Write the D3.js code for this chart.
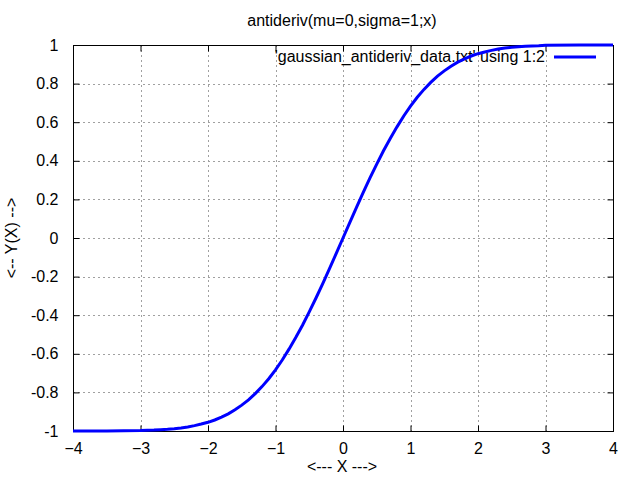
<!DOCTYPE html>
<html><head><meta charset="utf-8">
<script src="https://cdn.jsdelivr.net/npm/d3@7"></script>
<style>body{margin:0;background:#fff}svg{display:block}text{font-family:"Liberation Sans",Arial,sans-serif;font-size:16px;fill:#000}</style>
</head><body>
<script>
const title = "antideriv(mu=0,sigma=1;x)";
const xLabel = "<--- X --->";
const yLabel = "<-- Y(X) -->";
const legendLabel = "'gaussian_antideriv_data.txt' using 1:2";
const xTicks = [-4,-3,-2,-1,0,1,2,3,4];
const yTicks = [-1,-0.8,-0.6,-0.4,-0.2,0,0.2,0.4,0.6,0.8,1];
const xs = [-4,-3.5,-3,-2.9,-2.8,-2.7,-2.6,-2.5,-2.4,-2.3,-2.2,-2.1,-2,-1.9,-1.8,-1.7,-1.6,-1.5,-1.4,-1.3,-1.2,-1.1,-1,-0.9,-0.8,-0.7,-0.6,-0.5,-0.4,-0.3,-0.2,-0.1,0,0.1,0.2,0.3,0.4,0.5,0.6,0.7,0.8,0.9,1,1.1,1.2,1.3,1.4,1.5,1.6,1.7,1.8,1.9,2,2.1,2.2,2.3,2.4,2.5,2.6,2.7,2.8,2.9,3,3.5,4];
const ys = [-1,-1,-0.998,-0.996,-0.995,-0.993,-0.991,-0.988,-0.984,-0.979,-0.972,-0.964,-0.955,-0.943,-0.928,-0.911,-0.890,-0.866,-0.839,-0.806,-0.770,-0.729,-0.683,-0.632,-0.576,-0.516,-0.452,-0.383,-0.311,-0.236,-0.159,-0.080,0,0.080,0.159,0.236,0.311,0.383,0.452,0.516,0.576,0.632,0.683,0.729,0.770,0.806,0.839,0.866,0.890,0.911,0.928,0.943,0.955,0.964,0.972,0.979,0.984,0.988,0.991,0.993,0.995,0.996,0.999,1,1];

const W=640,H=480, L=73,R=613,T=45,B=431;
const svg=d3.select("body").append("svg").attr("width",W).attr("height",H);
const x=d3.scaleLinear().domain([-4,4]).range([L,R]);
const y=d3.scaleLinear().domain([-1,1]).range([B,T]);

// grid
const g=svg.append("g").attr("stroke","#a0a0a0").attr("stroke-width",1).attr("stroke-dasharray","2,3");
xTicks.slice(1,-1).forEach(t=>g.append("line").attr("x1",Math.round(x(t))+0.5).attr("x2",Math.round(x(t))+0.5).attr("y1",T).attr("y2",B));
yTicks.slice(1,-1).forEach(t=>g.append("line").attr("y1",Math.round(y(t))+0.5).attr("y2",Math.round(y(t))+0.5).attr("x1",L).attr("x2",R));

// axes with inward ticks
svg.append("g").attr("transform",`translate(0,${B+0.5})`).call(d3.axisBottom(x).tickValues(xTicks).tickSize(-6).tickPadding(11).tickFormat(d3.format("d")));
svg.append("g").attr("transform",`translate(0,${T+0.5})`).call(d3.axisTop(x).tickValues(xTicks).tickSize(-6).tickFormat(""));
svg.append("g").attr("transform",`translate(${L+0.5},0)`).call(d3.axisLeft(y).tickValues(yTicks).tickSize(-6).tickPadding(15).tickFormat(d=>d===0?"0":String(+d.toFixed(1))));
svg.append("g").attr("transform",`translate(${R+0.5},0)`).call(d3.axisRight(y).tickValues(yTicks).tickSize(-6).tickFormat(""));
svg.selectAll(".domain").remove();
svg.selectAll(".tick line").attr("stroke","#000");
svg.selectAll(".tick text").style("font-family","'Liberation Sans',Arial,sans-serif").style("font-size","16px").attr("fill","#000");
svg.append("rect").attr("x",L+0.5).attr("y",T+0.5).attr("width",R-L).attr("height",B-T).attr("fill","none").attr("stroke","#000");

// labels
svg.append("text").attr("x",342).attr("y",26).attr("text-anchor","middle").text(title);
svg.append("text").attr("x",342).attr("y",472).attr("text-anchor","middle").text(xLabel);
svg.append("text").attr("transform","translate(17,238) rotate(-90)").attr("text-anchor","middle").text(yLabel);

// legend
svg.append("text").attr("x",545).attr("y",62).attr("text-anchor","end").text(legendLabel);
svg.append("line").attr("x1",554).attr("x2",596).attr("y1",57).attr("y2",57).attr("stroke","#0000ff").attr("stroke-width",3);

// curve
const data=xs.map((v,i)=>[v,ys[i]]);
svg.append("path").datum(data).attr("fill","none").attr("stroke","#0000ff").attr("stroke-width",3)
  .attr("d",d3.line().x(d=>x(d[0])).y(d=>y(d[1])));
</script>
</body></html>
